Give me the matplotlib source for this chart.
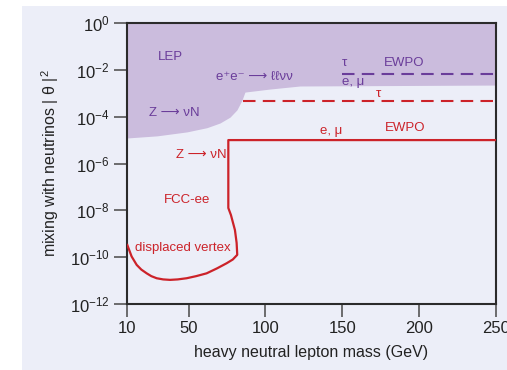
import matplotlib
matplotlib.use("Agg")
import matplotlib.pyplot as plt
from matplotlib import font_manager
from matplotlib.patches import Rectangle
import numpy as np

# ---------------- data ----------------
# LEP excluded region (lower boundary), mass in GeV, log10(|theta|^2)
lep_mass = [10, 29.5, 49, 62, 70.5, 77, 81.5, 84.8, 86.7, 103, 122.5, 250]
lep_log = [-4.91, -4.82, -4.65, -4.47, -4.27, -4.02, -3.71, -3.29, -2.95, -2.82, -2.69, -2.65]

# EWPO sensitivities (log10 values)
ewpo_tau_mass = [150, 250]
ewpo_tau_log = [-2.19, -2.19]
fcc_tau_mass = [85.3, 250]
fcc_tau_log = [-3.33, -3.33]

# FCC-ee Z -> nu N (e, mu) and displaced-vertex contour
fcc_mass = [250, 75.9, 75.9, 77.6, 80.2, 81.3, 81.7, 78.8, 74.8, 68.5, 61.8,
            55.0, 48.8, 43.0, 38.0, 33.5, 29.3, 25.8, 22.8, 19.3, 16.3, 13.0, 10.2]
fcc_log = [-5.0, -5.0, -7.9, -8.2, -8.84, -9.39, -9.9, -10.1, -10.26, -10.48, -10.69,
           -10.81, -10.9, -10.95, -10.97, -10.95, -10.9, -10.81, -10.69, -10.53, -10.33,
           -9.97, -9.48]

x_ticks = [10, 50, 100, 150, 200, 250]
y_tick_exps = [0, -2, -4, -6, -8, -10, -12]

# ---------------- style ----------------
names = {f.name for f in font_manager.fontManager.ttflist}
base_font = "Liberation Sans Narrow" if "Liberation Sans Narrow" in names else "Liberation Sans"
plt.rcParams["font.family"] = [base_font, "DejaVu Sans"]
plt.rcParams["mathtext.fontset"] = "custom"
plt.rcParams["mathtext.rm"] = base_font
plt.rcParams["mathtext.it"] = base_font + ":italic"

BG = "#eceef8"
FILL = "#cbbcdd"
PURPLE = "#6a3d9a"
RED = "#cc2229"
SPINE = "#2b2b2b"

fig = plt.figure(figsize=(5.07, 3.70), dpi=100)
fig.patch.set_facecolor("white")
fig.patches.append(Rectangle((22 / 507, 0), 1 - 22 / 507, 1 - 6 / 370,
                             transform=fig.transFigure, facecolor=BG,
                             edgecolor="none", zorder=-10))

ax = fig.add_axes([127 / 507, 1 - 304 / 370, (496 - 127) / 507, (304 - 23) / 370])
ax.set_facecolor(BG)
ax.set_yscale("log")
ax.set_xlim(10, 250)
ax.set_ylim(1e-12, 1)

# LEP region
ax.fill_between(lep_mass, 10 ** np.array(lep_log), 1, color=FILL, lw=0, zorder=1)

# lines
ax.plot(ewpo_tau_mass, 10 ** np.array(ewpo_tau_log), color=PURPLE, lw=1.5,
        dashes=(6, 3.5), zorder=3)
ax.plot(fcc_tau_mass, 10 ** np.array(fcc_tau_log), color=RED, lw=1.5,
        dashes=(6, 3.5), zorder=3)
ax.plot(fcc_mass, 10 ** np.array(fcc_log), color=RED, lw=1.6, zorder=3,
        solid_joinstyle="round")

# axes styling
for s in ax.spines.values():
    s.set_color(SPINE)
    s.set_linewidth(1.5)
ax.set_xticks(x_ticks)
ax.set_xticklabels([str(v) for v in x_ticks])
ax.set_yticks([10.0 ** e for e in y_tick_exps])
ax.set_yticklabels([r"$10^{%d}$" % e for e in y_tick_exps])
ax.minorticks_off()
ax.tick_params(direction="out", length=9.5, width=1.2, color="#555555",
               labelsize=12, labelcolor="#222222", pad=3)

ax.set_xlabel("heavy neutral lepton mass (GeV)", fontsize=11.5, color="#222222", labelpad=6)
ax.set_ylabel("mixing with neutrinos | θ |$^2$", fontsize=11.5, color="#222222", labelpad=6)

# annotations (data coordinates)
def txt(x, logy, s, color, ha="center", size=9.5, **kw):
    ax.text(x, 10 ** logy, s, color=color, ha=ha, va="center", fontsize=size,
            zorder=5, **kw)

txt(38.5, -1.45, "LEP", PURPLE)
txt(93, -2.3, "e⁺e⁻ ⟶ ℓℓνν", PURPLE)
txt(41, -3.85, "Z ⟶ νN", PURPLE)
txt(150, -1.7, "τ", PURPLE, ha="left")
txt(150, -2.5, "e, μ", PURPLE, ha="left")
txt(190, -1.7, "EWPO", PURPLE)
txt(173.5, -3.03, "τ", RED)
txt(143, -4.6, "e, μ", RED)
txt(191, -4.5, "EWPO", RED)
txt(74.5, -5.65, "Z ⟶ νN", RED, ha="right")
txt(49, -7.56, "FCC-ee", RED)
txt(46, -9.6, "displaced vertex", RED)

fig.savefig("out.png", dpi=100, facecolor=fig.get_facecolor())
